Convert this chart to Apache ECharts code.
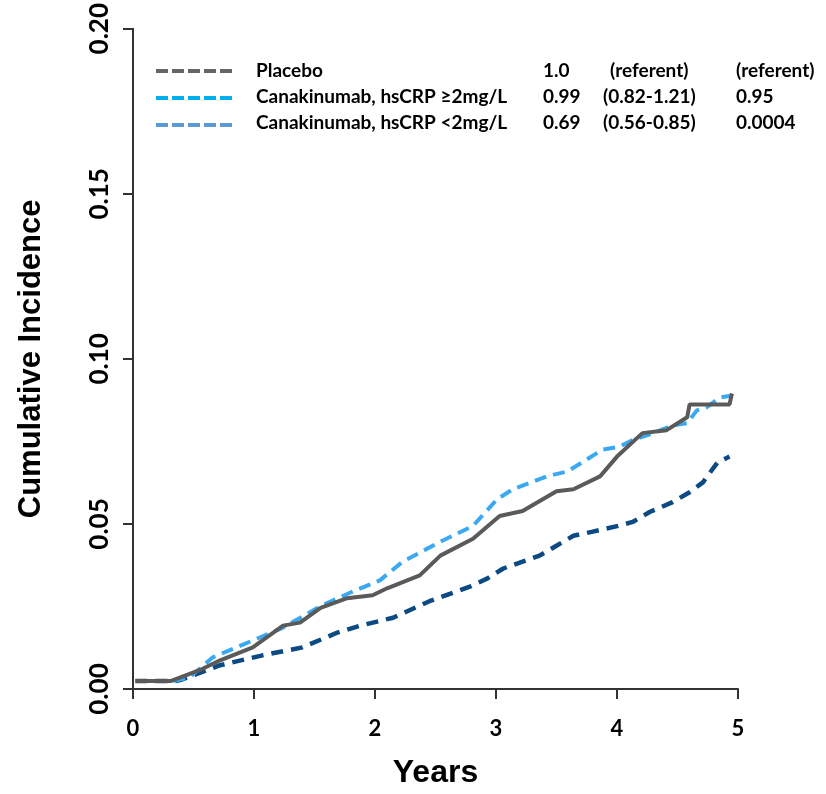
<!DOCTYPE html>
<html>
<head>
<meta charset="utf-8">
<script src="https://cdn.jsdelivr.net/npm/echarts@6/dist/echarts.min.js"></script>
<style>
  html, body { margin: 0; padding: 0; background: #fff; }
  #chart { width: 826px; height: 794px; }
</style>
</head>
<body>
<div id="chart"></div>
<script>
// [years, cumulative incidence]
var placebo = [
  [0.02, 0.0024], [0.31, 0.0024], [0.55, 0.0057], [0.72, 0.0087], [0.99, 0.0126],
  [1.24, 0.0192], [1.38, 0.0201], [1.55, 0.0246], [1.77, 0.0275], [1.98, 0.0284],
  [2.10, 0.0305], [2.37, 0.0344], [2.54, 0.0404], [2.81, 0.0455], [3.03, 0.0524],
  [3.22, 0.0539], [3.50, 0.0599], [3.64, 0.0605], [3.86, 0.0644], [4.00, 0.0704],
  [4.21, 0.0775], [4.41, 0.0784], [4.58, 0.0823], [4.60, 0.0862], [4.93, 0.0862],
  [4.95, 0.0895]
];
var crpHigh = [
  [0.02, 0.0024], [0.33, 0.0024], [0.47, 0.0036], [0.66, 0.0096], [0.99, 0.0147],
  [1.24, 0.0186], [1.55, 0.0251], [1.82, 0.0296], [2.04, 0.0329], [2.23, 0.0386],
  [2.54, 0.0446], [2.81, 0.0494], [3.01, 0.0575], [3.14, 0.0605], [3.42, 0.0644],
  [3.59, 0.0659], [3.75, 0.0695], [3.88, 0.0725], [4.02, 0.0734], [4.13, 0.0754],
  [4.30, 0.0775], [4.46, 0.0799], [4.58, 0.0805], [4.66, 0.0844], [4.74, 0.0853],
  [4.85, 0.0883], [4.95, 0.0889]
];
var crpLow = [
  [0.02, 0.0024], [0.35, 0.0024], [0.39, 0.0027], [0.72, 0.0072], [1.07, 0.0102],
  [1.40, 0.0126], [1.69, 0.0171], [1.88, 0.0192], [2.15, 0.0216], [2.45, 0.0266],
  [2.79, 0.0311], [2.93, 0.0335], [3.06, 0.0365], [3.22, 0.0386], [3.36, 0.0404],
  [3.50, 0.0434], [3.64, 0.0464], [3.79, 0.0476], [4.01, 0.0494], [4.13, 0.0506],
  [4.27, 0.0536], [4.46, 0.0566], [4.60, 0.0596], [4.71, 0.0626], [4.83, 0.0686],
  [4.93, 0.0704]
];

// legend table
var legendNames = ['Placebo', 'Canakinumab, hsCRP \u22652mg/L', 'Canakinumab, hsCRP <2mg/L'];
var legendHR = ['1.0', '0.99', '0.69'];
var legendCI = ['(referent)', '(0.82-1.21)', '(0.56-0.85)'];
var legendP = ['(referent)', '0.95', '0.0004'];
var legendColors = ['#666666', '#00b0f0', '#5b9bd5'];

var font = 'Lato, "Liberation Sans", sans-serif';
var titleFont = '"Liberation Sans", Arial, sans-serif';

var chart = echarts.init(document.getElementById('chart'));

var graphics = [];
for (var i = 0; i < legendNames.length; i++) {
  var y = 71 + i * 26;
  graphics.push({
    type: 'line',
    shape: { x1: 156, y1: y + i, x2: 232, y2: y + i },
    style: { stroke: legendColors[i], lineWidth: 4, lineDash: [12, 4] }
  });
  var cols = [[256, legendNames[i]], [543, legendHR[i]], [i > 0 ? 603 : 610, legendCI[i]], [736, legendP[i]]];
  for (var c = 0; c < cols.length; c++) {
    graphics.push({
      type: 'text',
      x: cols[c][0], y: y,
      style: {
        text: cols[c][1], fill: '#000', font: 'bold 19px ' + font,
        verticalAlign: 'middle'
      }
    });
  }
}

chart.setOption({
  animation: false,
  backgroundColor: '#fff',
  grid: { left: 133, right: 88, top: 24, bottom: 102 },
  xAxis: {
    type: 'value', min: 0, max: 5, interval: 1,
    name: 'Years', nameLocation: 'middle', nameGap: 68,
    nameTextStyle: { fontFamily: titleFont, fontWeight: 'bold', fontSize: 32, color: '#000' },
    axisLine: { show: true, lineStyle: { color: '#333', width: 2 } },
    axisTick: { show: true, length: 10, lineStyle: { color: '#333', width: 2 } },
    axisLabel: { margin: 29, fontFamily: font, fontWeight: 'bold', fontSize: 22, color: '#000' },
    splitLine: { show: false }
  },
  yAxis: {
    type: 'value', min: 0, max: 0.2, interval: 0.05,
    name: 'Cumulative Incidence', nameLocation: 'middle', nameGap: 86,
    nameTextStyle: { fontFamily: titleFont, fontWeight: 'bold', fontSize: 31, color: '#000' },
    axisLine: { show: true, lineStyle: { color: '#333', width: 2 } },
    axisTick: { show: true, length: 10, lineStyle: { color: '#333', width: 2 } },
    axisLabel: {
      rotate: 90, margin: 20, fontFamily: font, fontWeight: 'bold', fontSize: 26, color: '#000',
      formatter: function (v) { return v.toFixed(2); }
    },
    splitLine: { show: false }
  },
  series: [
    {
      name: 'Canakinumab, hsCRP <2mg/L', type: 'line', data: crpLow, symbol: 'none',
      lineStyle: { color: '#0b4a82', width: 4.5, type: [12, 8] }
    },
    {
      name: 'Canakinumab, hsCRP \u22652mg/L', type: 'line', data: crpHigh, symbol: 'none',
      lineStyle: { color: '#3ba9f2', width: 4, type: [12, 7] }
    },
    {
      name: 'Placebo', type: 'line', data: placebo, symbol: 'none',
      lineStyle: { color: '#5a5a5a', width: 4 }
    }
  ],
  graphic: graphics
});
</script>
</body>
</html>
